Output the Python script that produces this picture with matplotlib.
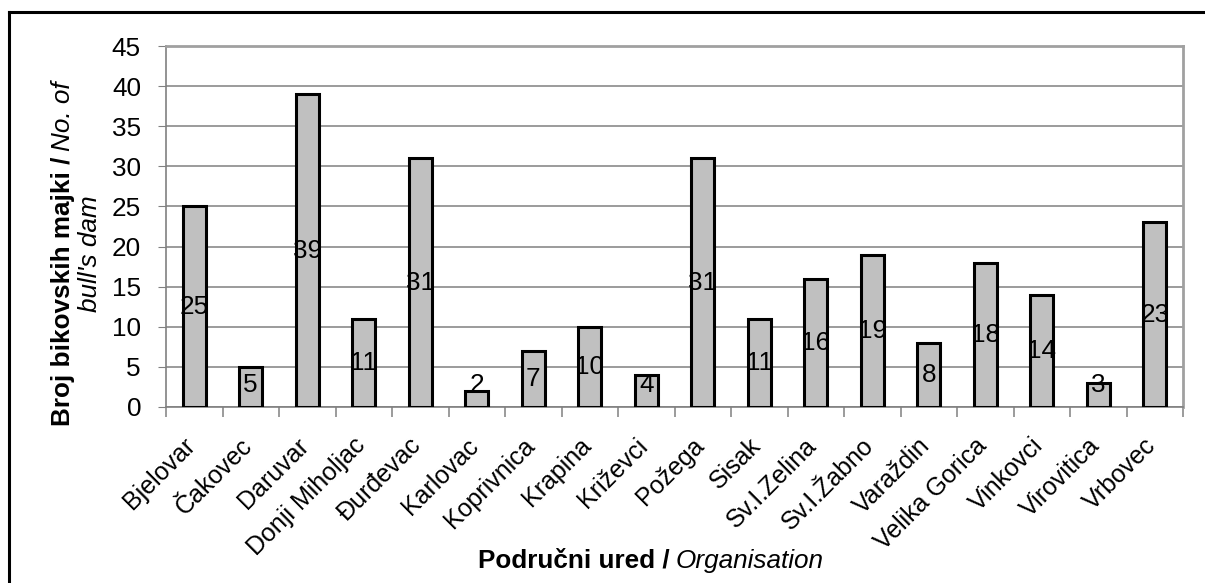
import matplotlib.pyplot as plt
import numpy as np
import matplotlib.transforms as mtransforms
from matplotlib.lines import Line2D
from matplotlib.ticker import FixedLocator

plt.rcParams['font.family'] = ['Liberation Sans', 'DejaVu Sans']

# Number of bull's dams per regional office
offices = ["Bjelovar", "Čakovec", "Daruvar", "Donji Miholjac", "Đurđevac",
           "Karlovac", "Koprivnica", "Krapina", "Križevci", "Požega",
           "Sisak", "Sv.I.Zelina", "Sv.I.Žabno", "Varaždin", "Velika Gorica",
           "Vinkovci", "Virovitica", "Vrbovec"]
dams = [25, 5, 39, 11, 31, 2, 7, 10, 4, 31, 11, 16, 19, 8, 18, 14, 3, 23]
yticks = [0, 5, 10, 15, 20, 25, 30, 35, 40, 45]

FS = 18.8
W, H = 1205, 583
fig = plt.figure(figsize=(W / 100, H / 100), dpi=100)
ax = fig.add_axes([166 / W, 1 - 407 / H, (1183 - 166) / W, (407 - 46) / H])

x = np.arange(len(offices))
ax.bar(x, dams, width=0.4, color='#c0c0c0', edgecolor='black',
       linewidth=2.2, zorder=3)

# value labels sit in the middle of each bar
for xi, v in zip(x, dams):
    ax.text(xi, max(v / 2, 2.7), str(v), ha='center', va='center',
            fontsize=FS, zorder=4)

ax.set_xlim(-0.5, len(offices) - 0.5)
ax.set_ylim(0, 45)
ax.set_yticks(yticks)
ax.tick_params(axis='y', labelsize=FS, length=6, color='#808080', pad=12)
ax.yaxis.grid(True, color='#808080', linewidth=1.1, zorder=0)

ax.set_xticks(x)
ax.set_xticklabels(offices, rotation=45, ha='right', va='top',
                   rotation_mode='default', fontsize=18)
ax.tick_params(axis='x', which='major', length=0, pad=19)
shift = mtransforms.ScaledTranslation(6 / 100, 0, fig.dpi_scale_trans)
for lbl in ax.get_xticklabels():
    lbl.set_transform(lbl.get_transform() + shift)
ax.xaxis.set_minor_locator(FixedLocator(np.arange(-0.5, len(offices), 1)))
ax.tick_params(axis='x', which='minor', length=7, color='#808080', width=1.1)

for side in ['top', 'right']:
    ax.spines[side].set_color('#a0a0a0')
    ax.spines[side].set_linewidth(2)
for side in ['left', 'bottom']:
    ax.spines[side].set_color('#808080')
    ax.spines[side].set_linewidth(1.2)

# outer chart frame (top and left edges fall inside the image)
fx, fy = 8.5 / W, 1 - 11.5 / H
fig.add_artist(Line2D([fx, 1.01], [fy, fy], transform=fig.transFigure,
                      color='black', linewidth=2.2))
fig.add_artist(Line2D([fx, fx], [-0.01, fy], transform=fig.transFigure,
                      color='black', linewidth=2.2))

fig.canvas.draw()
renderer = fig.canvas.get_renderer()


def px(xp, yp):
    return xp / W, 1 - yp / H


# x axis title: bold part followed by italic part
t1 = fig.text(*px(478, 568), "Područni ured /", fontsize=FS,
              fontweight='bold', ha='left', va='baseline')
bb = t1.get_window_extent(renderer)
fig.text((bb.x1 + 6) / W, 1 - 568 / H, "Organisation", fontsize=FS,
         fontstyle='italic', ha='left', va='baseline')

# y axis title on two rotated lines
b1 = fig.text(0, 0, "Broj bikovskih majki /", fontsize=FS, fontweight='bold',
              rotation=90, rotation_mode='anchor', ha='left', va='baseline')
i1 = fig.text(0, 0, "No. of", fontsize=FS, fontstyle='italic',
              rotation=90, rotation_mode='anchor', ha='left', va='baseline')
len_b = b1.get_window_extent(renderer).height
len_i = i1.get_window_extent(renderer).height
gap = 6
total = len_b + gap + len_i
cy = 254
start = cy + total / 2
b1.set_position(px(70, start))
i1.set_position(px(70, start - len_b - gap))
fig.text(*px(97, cy), "bull's dam", fontsize=FS, fontstyle='italic',
         rotation=90, rotation_mode='anchor', ha='center', va='baseline')

fig.savefig('out.png', dpi=100, facecolor='white')
